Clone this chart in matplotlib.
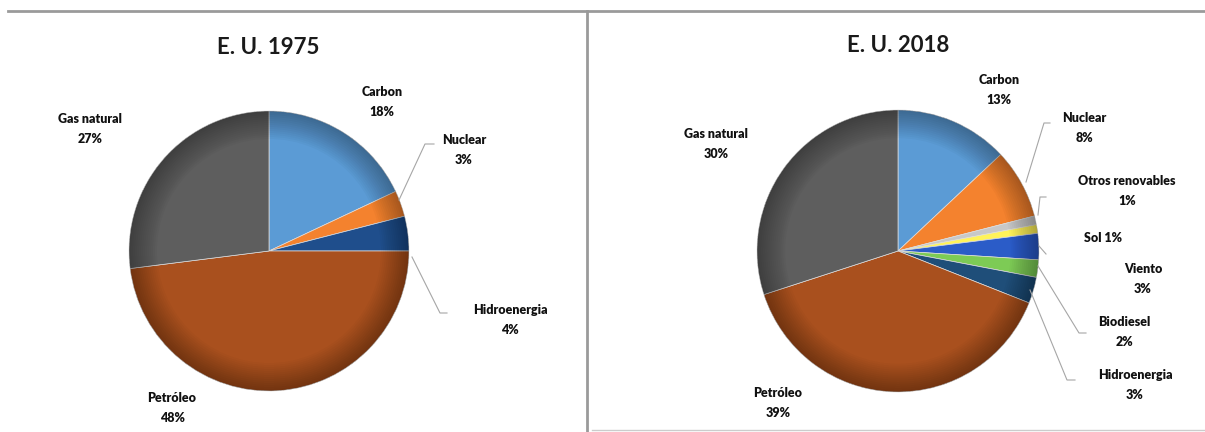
import numpy as np
import matplotlib.pyplot as plt
from matplotlib.patches import Wedge

# data
labels_1975 = ["Carbon", "Nuclear", "Hidroenergia", "Petróleo", "Gas natural"]
values_1975 = [18, 3, 4, 48, 27]
colors_1975 = ["#5b9bd5", "#f4822e", "#1f4e8c", "#a9501e", "#5e5e5e"]

labels_2018 = ["Carbon", "Nuclear", "Otros renovables", "Sol", "Viento",
               "Biodiesel", "Hidroenergia", "Petróleo", "Gas natural"]
values_2018 = [13, 8, 1, 1, 3, 2, 3, 39, 30]
colors_2018 = ["#5b9bd5", "#f4822e", "#c8c8c8", "#fff35a", "#2b5cc8",
               "#7dcb55", "#1f4e79", "#a9501e", "#5e5e5e"]

W, H = 1205, 432
FONT = "Lato"


def py(y):
    # pixel row -> data y
    return H - y


def draw_pie(ax, center, radius, values, colors):
    cx, cy = center[0], py(center[1])
    ax.pie(values, colors=colors, startangle=90, counterclock=False,
           center=(cx, cy), radius=radius, frame=True,
           wedgeprops=dict(edgecolor="#dddddd", linewidth=0.5))
    # darken the rim a bit, like the office gradient
    n = 14
    for i in range(n):
        r = radius * (0.8 + 0.2 * i / n)
        ax.add_patch(Wedge((cx, cy), radius, 0, 360, width=radius - r,
                           facecolor="black", edgecolor="none", alpha=0.025))


def label(ax, x, y, txt, size=9):
    ax.text(x, py(y), txt, ha="center", va="center", fontsize=size,
            fontweight="heavy", family=FONT, color="#111111", linespacing=1.75)


def leader(ax, pts):
    xs = [p[0] for p in pts]
    ys = [py(p[1]) for p in pts]
    ax.plot(xs, ys, color="#a6a6a6", lw=0.8)


fig = plt.figure(figsize=(W / 100, H / 100), dpi=100)
ax = fig.add_axes([0, 0, 1, 1])

draw_pie(ax, (269, 251), 140, values_1975, colors_1975)
draw_pie(ax, (898, 251), 141, values_2018, colors_2018)

ax.set_xlim(0, W)
ax.set_ylim(0, H)
ax.set_aspect("auto")
ax.axis("off")

# panel frame
ax.plot([8, W], [py(11), py(11)], color="#9a9a9a", lw=2)
ax.plot([587, 587], [py(11), 0], color="#9a9a9a", lw=2)
ax.plot([592, W], [py(430), py(430)], color="#cccccc", lw=1)

# titles
ax.text(268, py(47), "E. U. 1975", ha="center", va="center", fontsize=16,
        fontweight="bold", family=FONT, color="#1a1a1a")
ax.text(898, py(45), "E. U. 2018", ha="center", va="center", fontsize=16,
        fontweight="bold", family=FONT, color="#1a1a1a")

# 1975 labels
pos_1975 = {"Carbon": (382, 102), "Nuclear": (464, 150),
            "Hidroenergia": (510, 320), "Petróleo": (172, 408),
            "Gas natural": (90, 129)}
for name, v in zip(labels_1975, values_1975):
    x, y = pos_1975[name]
    label(ax, x, y, f"{name}\n{v}%")
leader(ax, [(399, 200), (425, 144), (434, 144)])
leader(ax, [(412, 257), (440, 313), (447, 313)])

# 2018 labels
pos_2018 = {"Carbon": (999, 90), "Nuclear": (1084, 128),
            "Otros renovables": (1127, 191), "Sol": (1103, 238),
            "Viento": (1143, 279), "Biodiesel": (1124, 332),
            "Hidroenergia": (1135, 385), "Petróleo": (778, 403),
            "Gas natural": (716, 144)}
for name, v in zip(labels_2018, values_2018):
    x, y = pos_2018[name]
    if name == "Sol":
        label(ax, x, y, f"{name} {v}%")
    else:
        label(ax, x, y, f"{name}\n{v}%")
leader(ax, [(1026, 182), (1044, 123), (1050, 123)])
leader(ax, [(1038, 215), (1040, 197), (1046, 197)])
leader(ax, [(1039, 246), (1046, 254)])
leader(ax, [(1038, 266), (1079, 333), (1086, 333)])
leader(ax, [(1030, 290), (1067, 380), (1075, 380)])

fig.savefig("out.png", dpi=100)
